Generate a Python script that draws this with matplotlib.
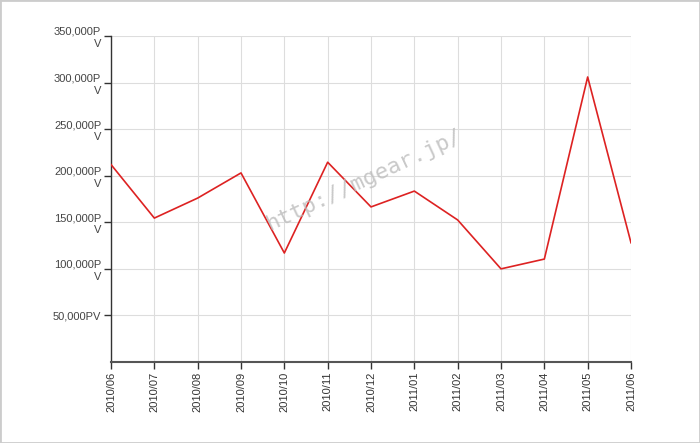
import matplotlib
matplotlib.use("Agg")
import matplotlib.pyplot as plt
from matplotlib.patches import Rectangle

plt.rcParams['font.family'] = ['Liberation Sans', 'DejaVu Sans']

months = ["2010/06", "2010/07", "2010/08", "2010/09", "2010/10", "2010/11", "2010/12",
          "2011/01", "2011/02", "2011/03", "2011/04", "2011/05", "2011/06"]
pv = [212000, 154500, 176000, 203000, 117000, 214500, 166500,
      183500, 152500, 100000, 110500, 306000, 128000]
y_ticks = [50000, 100000, 150000, 200000, 250000, 300000, 350000]
y_labels = ["50,000PV", "100,000P\nV", "150,000P\nV", "200,000P\nV",
            "250,000P\nV", "300,000P\nV", "350,000P\nV"]

fig = plt.figure(figsize=(7, 4.43), dpi=100)
ax = fig.add_axes([111/700, 81/443, 520/700, 326/443])

x = list(range(len(months)))
ax.plot(x, pv, color="#dd2222", linewidth=1.2, zorder=3)

ax.set_xlim(0, len(months) - 1)
ax.set_ylim(0, 350000)
ax.set_xticks(x)
ax.set_xticklabels(months, rotation=90, fontsize=8, color="#333333")
ax.set_yticks(y_ticks)
ax.set_yticklabels(y_labels, fontsize=8, color="#444444", linespacing=1.25)

ax.grid(True, color="#dddddd", linewidth=0.8)
ax.set_axisbelow(True)
for s in ["top", "right"]:
    ax.spines[s].set_visible(False)
ax.spines["left"].set_color("#333333")
ax.spines["left"].set_linewidth(1)
ax.spines["bottom"].set_color("#555555")
ax.spines["bottom"].set_linewidth(1.5)
ax.tick_params(axis="both", length=5, width=1, color="#333333", pad=2)

# watermark
fig.text(365/700, 1 - 180/443, "http://mgear.jp/", fontsize=16, color="#bbbbbb",
         family="DejaVu Sans Mono", rotation=25, ha="center", va="center", alpha=0.8)

fig.patches.append(Rectangle((0, 0), 1, 1, transform=fig.transFigure, fill=False,
                             edgecolor="#cccccc", linewidth=2))

fig.savefig("out.png", dpi=100)
